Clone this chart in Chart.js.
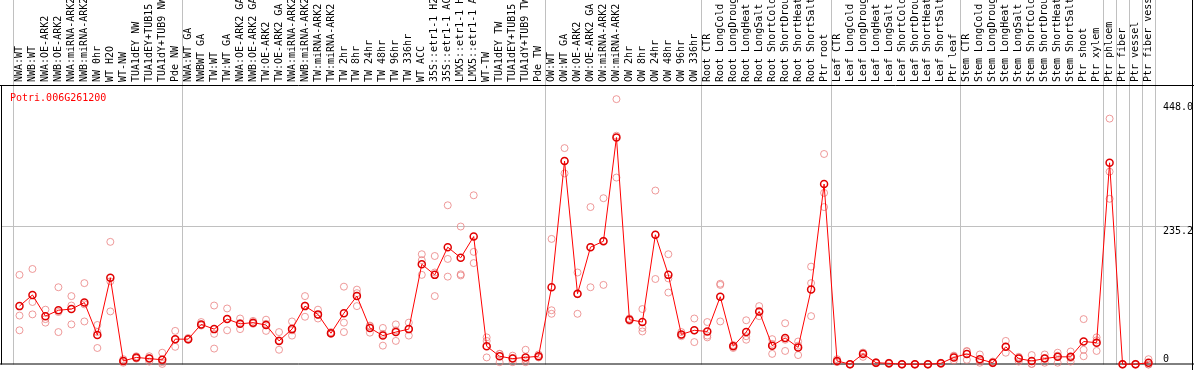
<!DOCTYPE html>
<html>
<head>
<meta charset="utf-8">
<script src="https://cdn.jsdelivr.net/npm/chart.js@4.4.0/dist/chart.umd.min.js"></script>
<style>
  html, body { margin: 0; padding: 0; background: #fff; }
  #wrap { width: 1194px; height: 370px; }
</style>
</head>
<body>
<div id="wrap"><canvas id="grafico"></canvas></div>
<script>
const geneName = 'Potri.006G261200'

const samples = [
  'NWA:WT', 'NWB:WT', 'NWA:OE-ARK2', 'NWB:OE-ARK2', 'NWA:miRNA-ARK2', 'NWB:miRNA-ARK2', 'NW 0hr', 'WT H2O', 'WT-NW',
  'TUA1dEY NW', 'TUA1dEY+TUB15 NW', 'TUA1dY+TUB9 NW', 'Pde NW',
  'NWA:WT GA', 'NWBWT GA', 'TW:WT', 'TW:WT GA', 'NWA:OE-ARK2 GA', 'NWB:OE-ARK2 GA', 'TW:OE-ARK2', 'TW:OE-ARK2 GA',
  'NWA:miRNA-ARK2 GA', 'NWB:miRNA-ARK2 GA', 'TW:miRNA-ARK2', 'TW:miRNA-ARK2 GA', 'TW 2hr', 'TW 8hr', 'TW 24hr', 'TW 48hr',
  'TW 96hr', 'TW 336hr', 'WT ACC', '35S::etr1-1 H2O', '35S::etr1-1 ACC', 'LMX5::etr1-1 H2O', 'LMX5::etr1-1 ACC', 'WT-TW',
  'TUA1dEY TW', 'TUA1dEY+TUB15 TW', 'TUA1dY+TUB9 TW', 'Pde TW',
  'OW:WT', 'OW:WT GA', 'OW:OE-ARK2', 'OW:OE-ARK2 GA', 'OW:miRNA-ARK2', 'OW:miRNA-ARK2 GA', 'OW 2hr', 'OW 8hr', 'OW 24hr',
  'OW 48hr', 'OW 96hr', 'OW 336hr',
  'Root CTR', 'Root LongCold', 'Root LongDrought', 'Root LongHeat', 'Root LongSalt', 'Root ShortCold', 'Root ShortDrought',
  'Root ShortHeat', 'Root ShortSalt', 'Ptr root',
  'Leaf CTR', 'Leaf LongCold', 'Leaf LongDrought', 'Leaf LongHeat', 'Leaf LongSalt', 'Leaf ShortCold', 'Leaf ShortDrought',
  'Leaf ShortHeat', 'Leaf ShortSalt', 'Ptr leaf',
  'Stem CTR', 'Stem LongCold', 'Stem LongDrought', 'Stem LongHeat', 'Stem LongSalt', 'Stem ShortCold', 'Stem ShortDrought',
  'Stem ShortHeat', 'Stem ShortSalt', 'Ptr shoot', 'Ptr xylem',
  'Ptr phloem', 'Ptr fiber', 'Ptr vessel', 'Ptr fiber vessel'
]

const meanValues = [
  99, 118, 82, 92, 94, 105, 50, 147, 6, 12, 10, 8, 43,
  43, 68, 60, 77, 69, 71, 67, 40, 60, 99, 85, 53, 87, 116, 62, 49, 55, 60, 170, 152, 199, 181, 217, 31, 14, 10, 12, 14,
  131, 345, 120, 199, 209, 385, 76, 72, 220, 152, 51, 58,
  56, 115, 31, 55, 90, 32, 45, 29, 127, 306,
  6, 0.5, 18, 3, 2, 0.5, 0.5, 0.5, 2, 12,
  18, 9, 3, 30, 10, 6, 10, 13, 13, 39, 37,
  342, 0.5, 0.5, 3
]

const rep1 = [
  152, 162, 93, 131, 116, 138, 67, 208, 9, 14, 14, 20, 57,
  45, 72, 100, 95, 78, 74, 76, 55, 73, 116, 93, 55, 132, 127, 66, 62, 68, 71, 187, 184, 270, 234, 287, 46, 18, 15, 25, 17,
  213, 367, 156, 267, 282, 450, 78, 94, 295, 187, 55, 78,
  72, 135, 33, 75, 99, 43, 70, 39, 166, 357,
  9, 1, 20, 4, 3, 1, 1, 1, 3, 15,
  23, 17, 5, 40, 13, 16, 17, 20, 22, 77, 46,
  417, 1, 1, 9
]

const rep2 = [
  83, 106, 77, 89, 100, 102, 55, 141, 6, 11, 11, 4, 43,
  43, 67, 52, 77, 70, 70, 69, 41, 58, 100, 84, 53, 71, 121, 65, 52, 58, 60, 177, 156, 179, 153, 191, 40, 18, 11, 8, 13,
  92, 345, 119, 199, 210, 388, 76, 62, 220, 146, 50, 58,
  49, 137, 32, 48, 89, 35, 42, 32, 138, 291,
  5, 0, 20, 3, 2, 0, 0, 0, 2, 14,
  22, 6, 3, 30, 12, 1, 11, 15, 11, 25, 41,
  327, 0, 0, 0
]

const rep3 = [
  58, 85, 71, 55, 68, 73, 28, 90, 3, 10, 5, 1, 30,
  42, 66, 27, 58, 60, 69, 57, 25, 49, 81, 78, 52, 55, 99, 54, 32, 40, 49, 152, 116, 149, 151, 172, 12, 4, 4, 4, 12,
  86, 324, 86, 131, 135, 317, 74, 56, 145, 122, 48, 38,
  46, 73, 28, 42, 82, 18, 23, 16, 82, 267,
  4, 0, 13, 2, 1, 0, 0, 0, 1, 7,
  8, 3, 2, 20, 5, 1, 3, 3, 5, 14, 23,
  281, 0, 0, 0
]

const yTicks = [0, 235.2, 448.0]
const groupBreaks = [0, 13, 41, 53, 63, 73, 84, 85, 86, 87, 88]

const monoFont = 'DejaVu Sans Mono'
const repColor = 'rgba(232, 120, 120, 0.75)'

const framePlugin = {
  id: 'frame',
  beforeDatasetsDraw(chart) {
    const { ctx, chartArea, scales: { x, y } } = chart
    const W = chart.width
    ctx.save()
    ctx.lineWidth = 1

    // separators between sample groups
    ctx.strokeStyle = '#c0c0c0'
    ctx.beginPath()
    groupBreaks.forEach(i => {
      const px = Math.round(x.getPixelForValue(i - 0.5)) + 0.5
      ctx.moveTo(px, 0)
      ctx.lineTo(px, chartArea.bottom)
    })
    const gy = Math.round(y.getPixelForValue(yTicks[1])) + 0.5
    ctx.moveTo(1, gy)
    ctx.lineTo(W - 1, gy)
    ctx.stroke()

    // black frame
    ctx.strokeStyle = '#000'
    ctx.beginPath()
    ctx.moveTo(0, chartArea.top + 0.5)
    ctx.lineTo(W, chartArea.top + 0.5)
    ctx.moveTo(0, chartArea.bottom - 0.5)
    ctx.lineTo(W, chartArea.bottom - 0.5)
    ctx.moveTo(1.5, chartArea.top)
    ctx.lineTo(1.5, chartArea.bottom)
    ctx.moveTo(W - 1.5, 0)
    ctx.lineTo(W - 1.5, chart.height)
    ctx.stroke()

    // gene name
    ctx.fillStyle = '#ff0000'
    ctx.font = '10px ' + monoFont
    ctx.textAlign = 'left'
    ctx.textBaseline = 'alphabetic'
    ctx.fillText(geneName, 10, 101)

    // value labels on the right
    ctx.fillStyle = '#000'
    const shift = [-3, 8.5, 10]
    yTicks.forEach((v, i) => {
      const label = v === 0 ? '0' : v.toFixed(1)
      ctx.fillText(label, chartArea.right + 8, y.getPixelForValue(v) + shift[i])
    })
    ctx.restore()
  }
}

const repDataset = (name, values) => ({
  label: name,
  data: values,
  showLine: false,
  pointRadius: 3.5,
  pointBorderWidth: 1,
  pointBorderColor: repColor,
  pointBackgroundColor: 'rgba(0,0,0,0)',
  clip: false
})

new Chart(document.getElementById('grafico'), {
  type: 'line',
  data: {
    labels: samples,
    datasets: [
      {
        label: 'mean',
        data: meanValues,
        borderColor: '#ff0000',
        borderWidth: 1,
        pointRadius: 3.5,
        pointBorderWidth: 1.5,
        pointBorderColor: '#e00000',
        pointBackgroundColor: 'rgba(0,0,0,0)',
        tension: 0,
        clip: false
      },
      repDataset('rep1', rep1),
      repDataset('rep2', rep2),
      repDataset('rep3', rep3)
    ]
  },
  options: {
    responsive: true,
    maintainAspectRatio: false,
    animation: false,
    layout: { padding: { left: 13, right: 39, top: 0, bottom: 1 } },
    plugins: {
      legend: { display: false },
      tooltip: { enabled: false }
    },
    scales: {
      x: {
        position: 'top',
        offset: true,
        grid: { display: false, drawTicks: false },
        border: { display: false },
        ticks: {
          autoSkip: false,
          minRotation: 90,
          maxRotation: 90,
          padding: 3,
          labelOffset: 12,
          color: '#000',
          font: { family: monoFont, size: 10 }
        },
        afterFit: s => { s.height = 85 }
      },
      y: {
        display: false,
        min: 0,
        max: 474
      }
    }
  },
  plugins: [framePlugin]
})
</script>
</body>
</html>
